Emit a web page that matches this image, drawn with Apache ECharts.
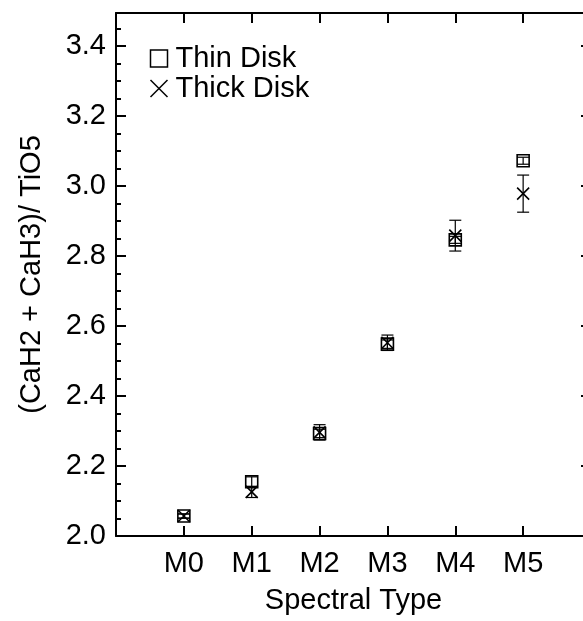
<!DOCTYPE html>
<html>
<head>
<meta charset="utf-8">
<script src="https://cdn.jsdelivr.net/npm/echarts@6/dist/echarts.min.js"></script>
<style>html,body{margin:0;padding:0;background:#fff;}#c{width:583px;height:621px;}</style>
</head>
<body>
<div id="c"></div>
<script>
// Data
var categories = ['M0', 'M1', 'M2', 'M3', 'M4', 'M5'];
var thinValues = [2.057, 2.155, 2.293, 2.548, 2.846, 3.072];
var thinErrors = [0.006, 0.014, 0.012, 0.012, 0.010, 0.010];
var thickValues = [2.057, 2.126, 2.296, 2.552, 2.858, 2.978];
var thickErrors = [0.006, 0.016, 0.022, 0.022, 0.044, 0.053];
var yTickLabels = ['2.0', '2.2', '2.4', '2.6', '2.8', '3.0', '3.2', '3.4'];

var FONT = 'Liberation Sans, Arial, Helvetica, sans-serif';

function pts(vals) { return vals.map(function (v, i) { return [i, v]; }); }
function errs(vals, e) { return vals.map(function (v, i) { return [i, v - e[i], v + e[i]]; }); }

function errRender(params, api) {
  var x = api.value(0);
  var lo = api.coord([x, api.value(1)]);
  var hi = api.coord([x, api.value(2)]);
  var hw = 6;
  var st = { stroke: '#000', lineWidth: 1.2 };
  return {
    type: 'group',
    children: [
      { type: 'line', shape: { x1: lo[0], y1: lo[1], x2: hi[0], y2: hi[1] }, style: st },
      { type: 'line', shape: { x1: lo[0] - hw, y1: lo[1], x2: lo[0] + hw, y2: lo[1] }, style: st },
      { type: 'line', shape: { x1: hi[0] - hw, y1: hi[1], x2: hi[0] + hw, y2: hi[1] }, style: st }
    ]
  };
}

var XPATH = 'path://M0,0L10,10M10,0L0,10';
var SQPATH = 'path://M0,0L10,0L10,10L0,10Z';

var chart = echarts.init(document.getElementById('c'), null, { renderer: 'canvas' });
function axisLine(show) { return { show: show, onZero: false, lineStyle: { color: '#000', width: 2 } }; }
chart.setOption({
  animation: false,
  backgroundColor: '#fff',
  textStyle: { fontFamily: FONT, color: '#000' },
  grid: { left: 116, right: -8, top: 13, bottom: 85, outerBoundsMode: 'none', containLabel: false },
  legend: {
    orient: 'vertical',
    left: 148,
    top: 44,
    padding: 0,
    itemGap: 1,
    itemWidth: 17,
    itemHeight: 17,
    textStyle: { fontFamily: FONT, fontSize: 29, color: '#000', lineHeight: 25, padding: [0, 0, 0, 3] },
    data: [
      { name: 'Thin Disk', icon: SQPATH, itemStyle: { color: 'none', borderColor: '#000', borderWidth: 1.5 } },
      { name: 'Thick Disk', icon: XPATH, itemStyle: { color: 'none', borderColor: '#000', borderWidth: 1.5 } }
    ]
  },
  xAxis: [{
    type: 'value', min: -1, max: 6, interval: 1, position: 'bottom',
    name: 'Spectral Type', nameLocation: 'middle', nameGap: 50,
    nameTextStyle: { fontFamily: FONT, fontSize: 29, color: '#000' },
    axisLine: axisLine(true),
    axisTick: { show: true, inside: true, length: 10, lineStyle: { color: '#000', width: 2 } },
    axisLabel: {
      fontFamily: FONT, fontSize: 29, color: '#000', margin: 13,
      formatter: function (v) { return categories[Math.round(v)] !== undefined && v >= 0 ? categories[Math.round(v)] : ''; }
    },
    splitLine: { show: false }
  }, {
    type: 'value', min: -1, max: 6, interval: 1, position: 'top',
    axisLine: axisLine(true),
    axisTick: { show: true, inside: true, length: 10, lineStyle: { color: '#000', width: 2 } },
    axisLabel: { show: false },
    splitLine: { show: false }
  }],
  yAxis: [{
    type: 'value', min: 2.0, max: 3.494, interval: 0.2, position: 'left',
    name: '(CaH2 + CaH3)/ TiO5', nameLocation: 'middle', nameGap: 70,
    nameTextStyle: { fontFamily: FONT, fontSize: 29, color: '#000' },
    axisLine: axisLine(true),
    axisTick: { show: true, inside: true, length: 10, lineStyle: { color: '#000', width: 2 } },
    axisLabel: {
      fontFamily: FONT, fontSize: 29, color: '#000', margin: 10, showMaxLabel: false,
      formatter: function (v) {
        var idx = Math.round((v - 2.0) / 0.2);
        return Math.abs(v - (2.0 + idx * 0.2)) < 1e-6 && yTickLabels[idx] ? yTickLabels[idx] : '';
      }
    },
    splitLine: { show: false }
  }, {
    type: 'value', min: 2.0, max: 3.494, interval: 0.05, position: 'left',
    axisLine: axisLine(false),
    axisTick: { show: true, inside: true, length: 5, lineStyle: { color: '#000', width: 2 } },
    axisLabel: { show: false },
    splitLine: { show: false }
  }, {
    type: 'value', min: 2.0, max: 3.494, interval: 0.2, position: 'right',
    axisLine: axisLine(true),
    axisTick: { show: true, inside: true, length: 10, lineStyle: { color: '#000', width: 2 } },
    axisLabel: { show: false },
    splitLine: { show: false }
  }],
  series: [
    {
      name: 'Thin Disk', type: 'scatter', data: pts(thinValues),
      symbol: SQPATH, symbolSize: 12,
      itemStyle: { color: 'none', borderColor: '#000', borderWidth: 1.6, opacity: 1 },
      z: 3
    },
    {
      name: 'Thick Disk', type: 'scatter', data: pts(thickValues),
      symbol: XPATH, symbolSize: 12,
      itemStyle: { color: 'none', borderColor: '#000', borderWidth: 1.6, opacity: 1 },
      z: 3
    },
    {
      name: 'thinErr', type: 'custom', data: errs(thinValues, thinErrors),
      renderItem: errRender, z: 2, silent: true
    },
    {
      name: 'thickErr', type: 'custom', data: errs(thickValues, thickErrors),
      renderItem: errRender, z: 2, silent: true
    }
  ]
});
</script>
</body>
</html>
